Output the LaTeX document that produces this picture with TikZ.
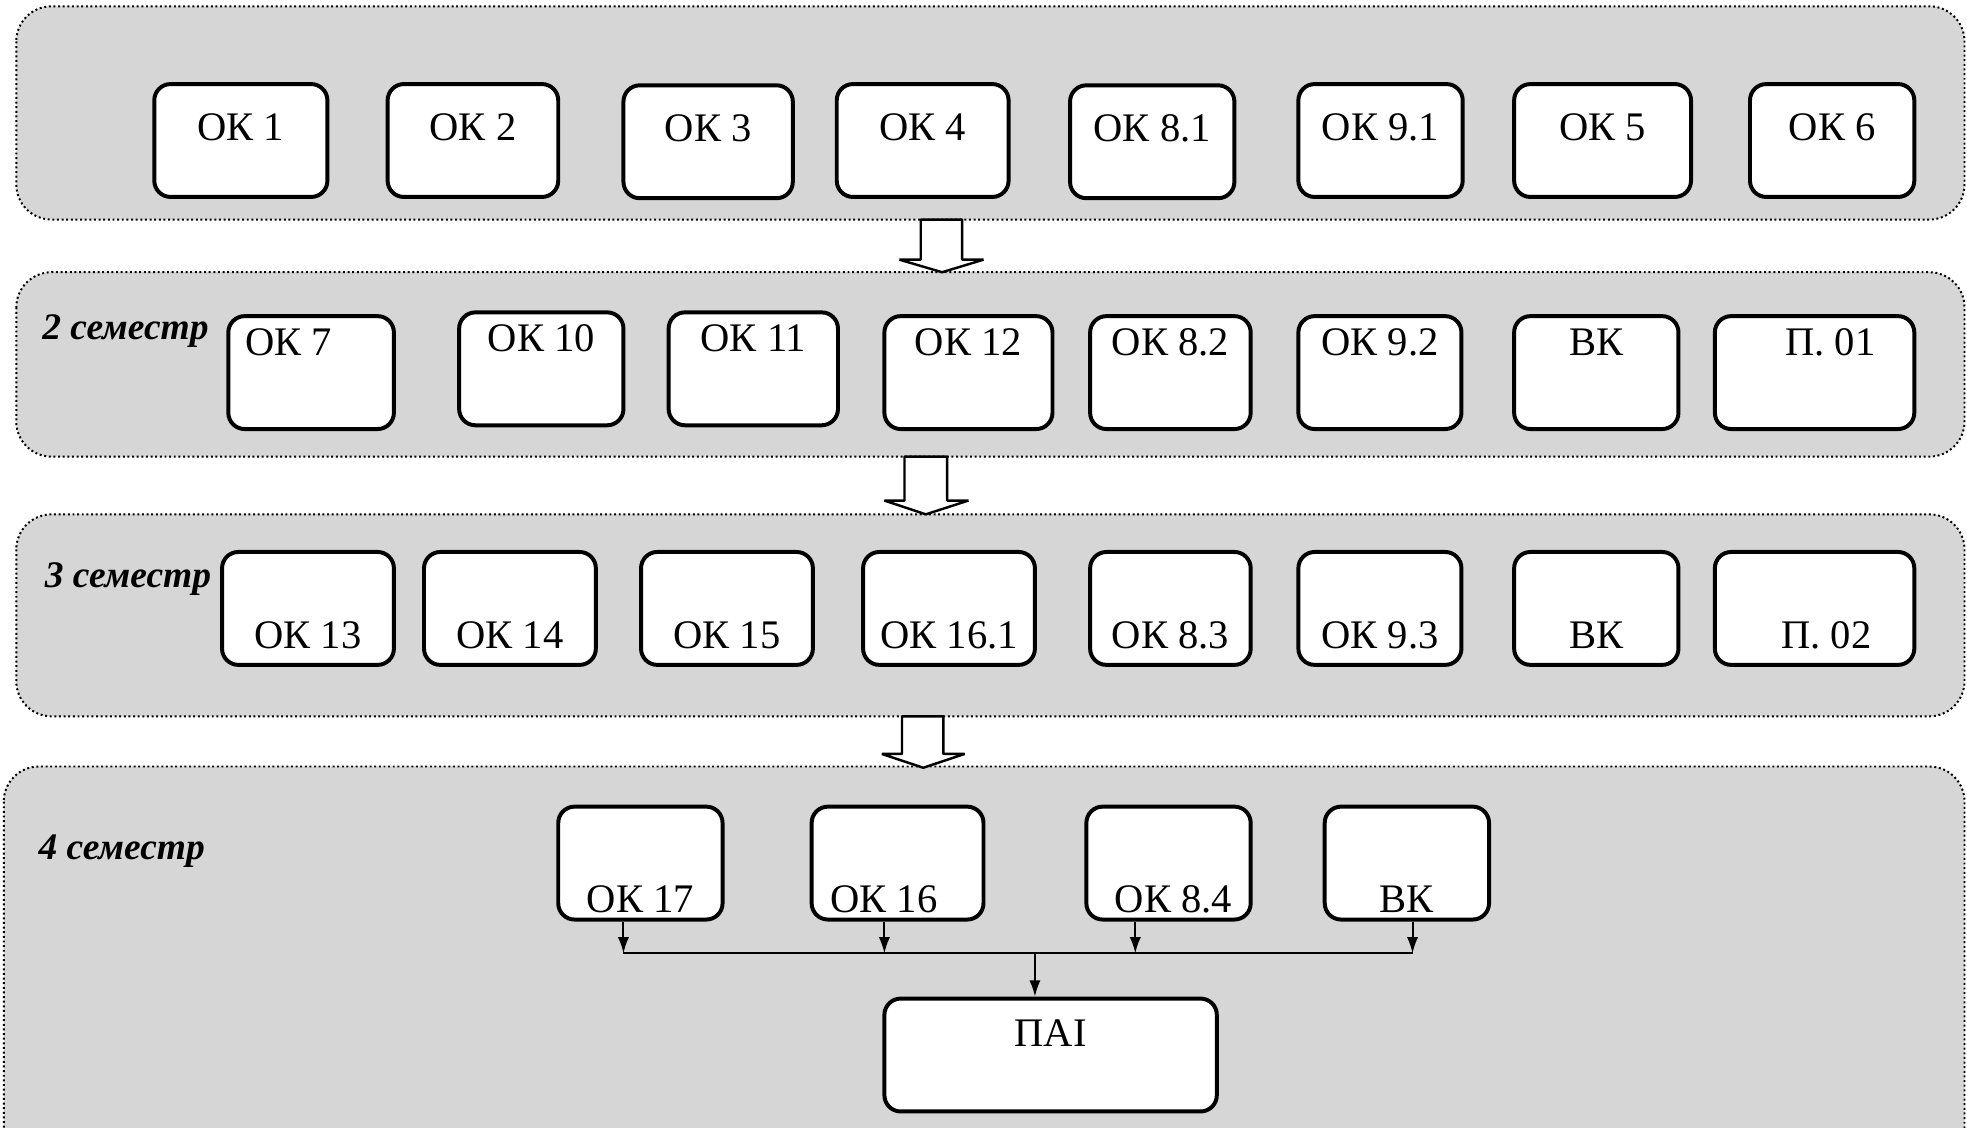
\documentclass[tikz,border=0pt]{standalone}
\usepackage{fontspec}
\setmainfont{Liberation Serif}
\usepackage{xcolor}
\usetikzlibrary{arrows.meta}
\definecolor{bandgray}{RGB}{214,214,214}

\begin{document}
\begin{tikzpicture}[x=0.1mm, y=-0.1mm,
    band/.style={fill=bandgray, draw=black, line width=0.45pt, dash pattern=on 0.45pt off 0.6pt, rounded corners=2.8mm},
    box/.style={draw=black, fill=white, line width=0.9pt, rounded corners=1.3mm, inner sep=0pt, minimum width=13.4mm, font=\fontsize{9.2}{11}\selectfont},
    txtmid/.style={box, text height=4.5mm, text depth=4.5mm},
    txttop/.style={box, text height=3.1mm, text depth=5.9mm},
    txtlow/.style={box, text height=7.7mm, text depth=1.3mm},
    txtfloor/.style={box, text height=8.4mm, text depth=0.6mm},
    semlabel/.style={anchor=base west, inner sep=0pt, font=\fontsize{8.5}{10}\selectfont\bfseries\itshape},
    blockarrow/.style={draw=black, fill=white, line width=0.55pt, line join=bevel},
    conn/.style={line width=0.45pt, -{Latex[length=1.3mm,width=0.9mm]}}]
    \clip (0,0) rectangle (1568,899);

    % Semester bands
    \draw[band] (13,5) rectangle (1566,175);
    \draw[band] (13,217) rectangle (1566,364);
    \draw[band] (13,410) rectangle (1566,571);
    \draw[band] (3,611) rectangle (1566,950);

    % Hollow arrows between bands
    \draw[blockarrow] (734,175) -- (734,207) -- (717,207) -- (751,217) -- (784,207) -- (767,207) -- (767,175) -- cycle;
    \draw[blockarrow] (721,364) -- (721,399) -- (705,399) -- (738,410) -- (772,399) -- (755,399) -- (755,364) -- cycle;
    \draw[blockarrow] (719,571) -- (719,601) -- (703,601) -- (736,612) -- (769,601) -- (752,601) -- (752,571) -- cycle;

    % 1 semestr
    \node[txtmid, minimum width=13.8mm] (ok1) at (192,112) {ОК 1};
    \node[txtmid, minimum width=13.6mm] (ok2) at (377,112) {ОК 2};
    \node[txtmid, minimum width=13.5mm] (ok3) at (564.5,113) {ОК 3};
    \node[txtmid, minimum width=13.7mm] (ok4) at (735.5,112) {ОК 4};
    \node[txtmid, minimum width=13.1mm] (ok81) at (918.5,113) {ОК 8.1};
    \node[txtmid, minimum width=13.1mm] (ok91) at (1100.5,112) {ОК 9.1};
    \node[txtmid, minimum width=14.1mm] (ok5) at (1277.5,112) {ОК 5};
    \node[txtmid, minimum width=13.1mm] (ok6) at (1460.5,112) {ОК 6};

    % 2 semestr
    \node[semlabel] (sem2) at (33,271) {2 семестр};
    \node[txttop, minimum width=13.2mm] (ok7) at (248,297) {ОК 7\kern3.6mm};
    \node[txttop, minimum width=13.1mm] (ok10) at (431.5,294) {ОК 10};
    \node[txttop, minimum width=13.5mm] (ok11) at (600.5,294) {ОК 11};
    \node[txttop] (ok12) at (772,297) {ОК 12};
    \node[txttop, minimum width=12.8mm] (ok82) at (933,297) {ОК 8.2};
    \node[txttop, minimum width=13.0mm] (ok92) at (1100,297) {ОК 9.2};
    \node[txttop, minimum width=13.1mm] (vk2) at (1272.5,297) {ВК};
    \node[txttop, minimum width=15.9mm] (p01) at (1446.5,297) {\kern2.5mmП. 01};

    % 3 semestr
    \node[semlabel] (sem3) at (35,468) {3 семестр};
    \node[txtlow, minimum width=13.7mm] (ok13) at (245.5,485) {ОК 13};
    \node[txtlow, minimum width=13.7mm] (ok14) at (406.5,485) {ОК 14};
    \node[txtlow, minimum width=13.7mm] (ok15) at (579.5,485) {ОК 15};
    \node[txtlow, minimum width=13.7mm] (ok161) at (756.5,485) {ОК 16.1};
    \node[txtlow, minimum width=12.8mm] (ok83) at (933,485) {ОК 8.3};
    \node[txtlow, minimum width=13.0mm] (ok93) at (1100,485) {ОК 9.3};
    \node[txtlow, minimum width=13.1mm] (vk3) at (1272.5,485) {ВК};
    \node[txtlow, minimum width=15.9mm] (p02) at (1446.5,485) {\kern1.9mmП. 02};

    % 4 semestr
    \node[semlabel] (sem4) at (30,685) {4 семестр};
    \node[txtfloor, minimum width=13.1mm] (ok17) at (510.5,688) {ОК 17};
    \node[txtfloor, minimum width=13.7mm] (ok16) at (715.5,688) {ОК 16\kern2.2mm};
    \node[txtfloor, minimum width=13.1mm] (ok84) at (931.5,688) {\kern0.8mmОК 8.4};
    \node[txtfloor, minimum width=13.1mm] (vk4) at (1121.5,688) {ВК};
    \node[box, text height=3.8mm, text depth=5.2mm, minimum width=26.5mm] (pai) at (837.5,841) {ПАІ};

    % Collecting line to the final attestation
    \coordinate (j1) at (497,760);
    \coordinate (j2) at (705,760);
    \coordinate (j3) at (905,760);
    \coordinate (j4) at (1126,760);
    \coordinate (jm) at (825,760);
    \draw[conn] (497,0 |- ok17.south) -- (j1);
    \draw[conn] (705,0 |- ok16.south) -- (j2);
    \draw[conn] (905,0 |- ok84.south) -- (j3);
    \draw[conn] (1126,0 |- vk4.south) -- (j4);
    \draw[line width=0.45pt] (j1) -- (j4);
    \draw[conn] (jm) -- (825,0 |- pai.north);
\end{tikzpicture}
\end{document}
